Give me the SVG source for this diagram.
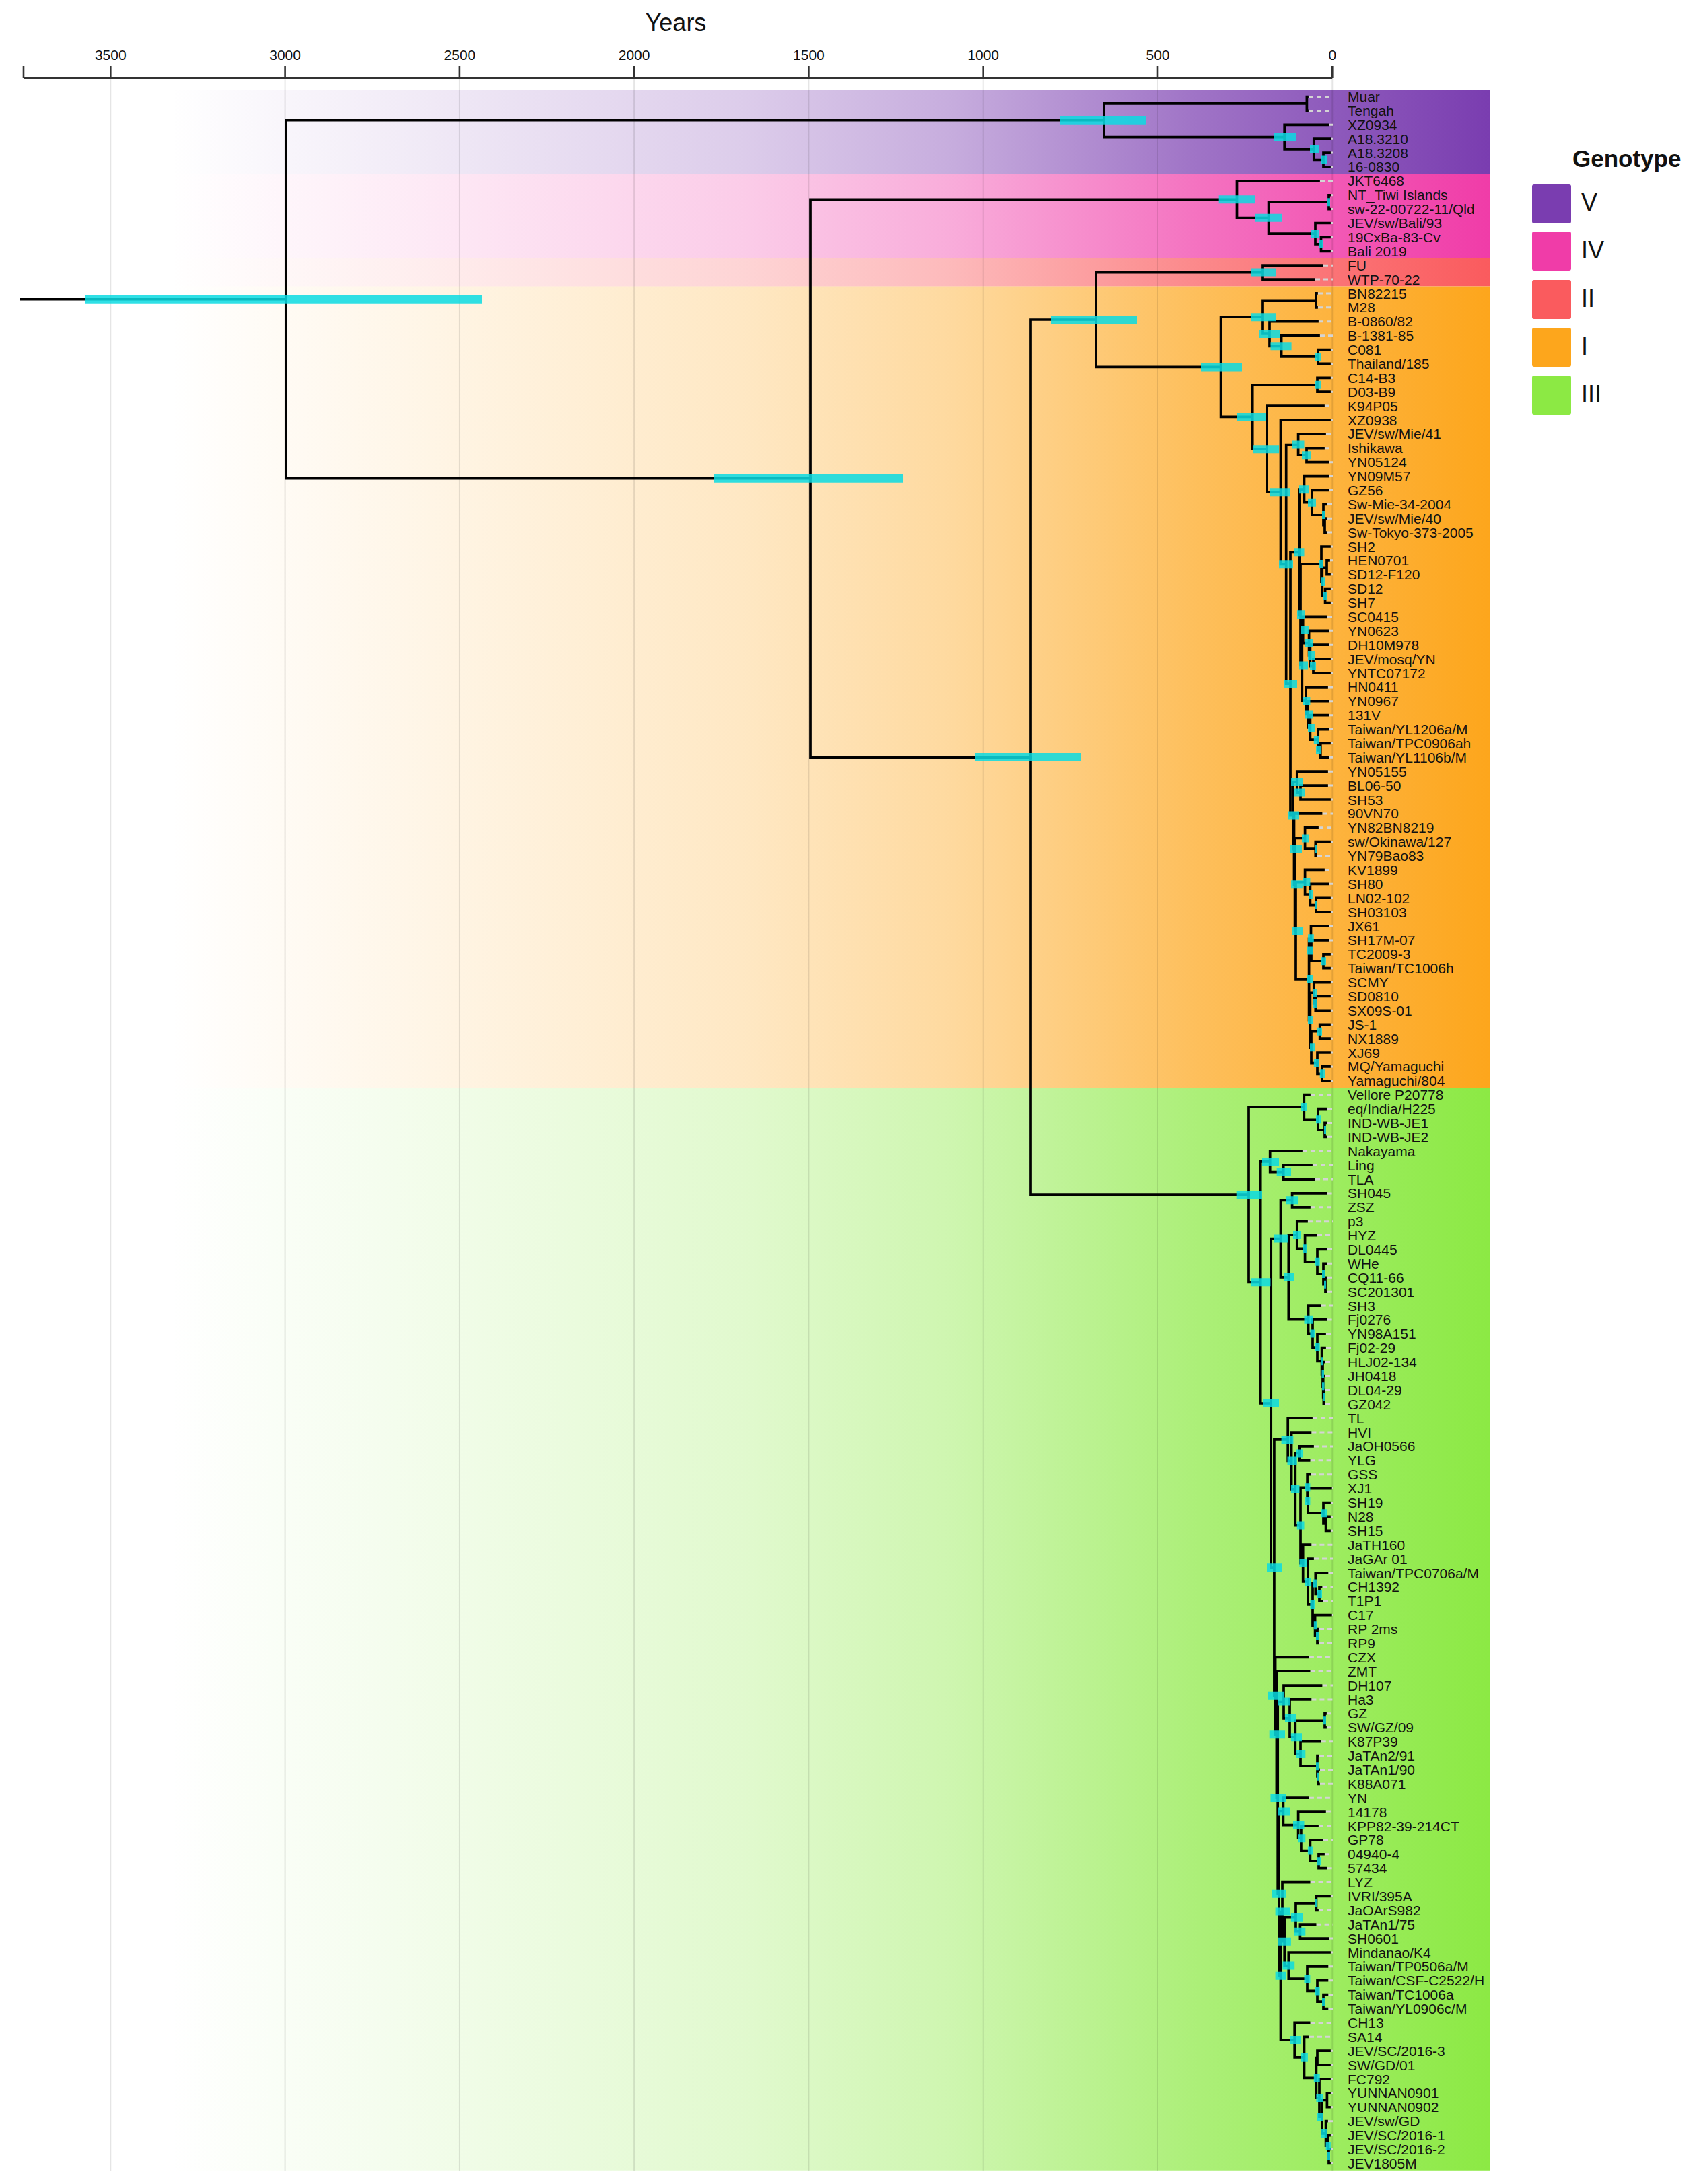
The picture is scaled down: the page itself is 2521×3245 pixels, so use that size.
<svg xmlns="http://www.w3.org/2000/svg" width="2521" height="3245" viewBox="0 0 2521 3245">
<style>
text{font-family:"Liberation Sans",Arial,sans-serif;fill:#111}
.lab{font-size:21px}
.tick{font-size:21px;text-anchor:middle}
.br{fill:none;stroke:#000;stroke-width:3.7;stroke-linecap:square}
.hpd{fill:none;stroke:#0bdbe2;stroke-opacity:0.85;stroke-width:12;stroke-linecap:butt}
.ext{fill:none;stroke:#d4d4d4;stroke-width:3;stroke-dasharray:7 5}
.grid{stroke:#000;stroke-opacity:0.1;stroke-width:2}
</style>
<defs>
<linearGradient id="gV" gradientUnits="userSpaceOnUse" x1="35" y1="0" x2="2213" y2="0">
<stop offset="0.1" stop-color="#7a3db0" stop-opacity="0"/><stop offset="0.26" stop-color="#7a3db0" stop-opacity="0.1"/><stop offset="0.49" stop-color="#7a3db0" stop-opacity="0.26"/><stop offset="0.63" stop-color="#7a3db0" stop-opacity="0.42"/><stop offset="0.8" stop-color="#7a3db0" stop-opacity="0.72"/><stop offset="1" stop-color="#7a3db0" stop-opacity="1"/>
</linearGradient>
<linearGradient id="gIV" href="#gV"><stop offset="0.1" stop-color="#f03ca8" stop-opacity="0"/><stop offset="0.26" stop-color="#f03ca8" stop-opacity="0.1"/><stop offset="0.49" stop-color="#f03ca8" stop-opacity="0.26"/><stop offset="0.63" stop-color="#f03ca8" stop-opacity="0.42"/><stop offset="0.8" stop-color="#f03ca8" stop-opacity="0.72"/><stop offset="1" stop-color="#f03ca8" stop-opacity="1"/></linearGradient>
<linearGradient id="gII" href="#gV"><stop offset="0.1" stop-color="#fa5b5e" stop-opacity="0"/><stop offset="0.26" stop-color="#fa5b5e" stop-opacity="0.1"/><stop offset="0.49" stop-color="#fa5b5e" stop-opacity="0.26"/><stop offset="0.63" stop-color="#fa5b5e" stop-opacity="0.42"/><stop offset="0.8" stop-color="#fa5b5e" stop-opacity="0.72"/><stop offset="1" stop-color="#fa5b5e" stop-opacity="1"/></linearGradient>
<linearGradient id="gI" href="#gV"><stop offset="0.1" stop-color="#fda61c" stop-opacity="0"/><stop offset="0.26" stop-color="#fda61c" stop-opacity="0.1"/><stop offset="0.49" stop-color="#fda61c" stop-opacity="0.26"/><stop offset="0.63" stop-color="#fda61c" stop-opacity="0.42"/><stop offset="0.8" stop-color="#fda61c" stop-opacity="0.72"/><stop offset="1" stop-color="#fda61c" stop-opacity="1"/></linearGradient>
<linearGradient id="gIII" href="#gV"><stop offset="0.1" stop-color="#8ce944" stop-opacity="0"/><stop offset="0.26" stop-color="#8ce944" stop-opacity="0.1"/><stop offset="0.49" stop-color="#8ce944" stop-opacity="0.26"/><stop offset="0.63" stop-color="#8ce944" stop-opacity="0.42"/><stop offset="0.8" stop-color="#8ce944" stop-opacity="0.72"/><stop offset="1" stop-color="#8ce944" stop-opacity="1"/></linearGradient>
</defs>
<rect width="2521" height="3245" fill="#fff"/>
<g id="bands" transform="matrix(1 0 0 20.89 0 143.5)">
<rect x="35" y="-0.5" width="2178" height="6" fill="url(#gV)"/>
<rect x="35" y="5.5" width="2178" height="6" fill="url(#gIV)"/>
<rect x="35" y="11.5" width="2178" height="2" fill="url(#gII)"/>
<rect x="35" y="13.5" width="2178" height="57" fill="url(#gI)"/>
<rect x="35" y="70.5" width="2178" height="77" fill="url(#gIII)"/>
</g>
<g id="grid">
<line class="grid" x1="164.3" y1="118" x2="164.3" y2="3225"/>
<line class="grid" x1="423.6" y1="118" x2="423.6" y2="3225"/>
<line class="grid" x1="682.9" y1="118" x2="682.9" y2="3225"/>
<line class="grid" x1="942.1" y1="118" x2="942.1" y2="3225"/>
<line class="grid" x1="1201.4" y1="118" x2="1201.4" y2="3225"/>
<line class="grid" x1="1460.7" y1="118" x2="1460.7" y2="3225"/>
<line class="grid" x1="1720" y1="118" x2="1720" y2="3225"/>
<line class="grid" x1="1979.3" y1="118" x2="1979.3" y2="3225"/>
</g>
<g id="axis">
<text x="1004" y="46" style="font-size:36px;text-anchor:middle">Years</text>
<path d="M35 116 H1979.3 M35 98 V116 M164.3 98 V116 M423.6 98 V116 M682.9 98 V116 M942.1 98 V116 M1201.4 98 V116 M1460.7 98 V116 M1720 98 V116 M1979.3 98 V116" fill="none" stroke="#333" stroke-width="2.6"/>
<text class="tick" x="164.3" y="89">3500</text>
<text class="tick" x="423.6" y="89">3000</text>
<text class="tick" x="682.9" y="89">2500</text>
<text class="tick" x="942.1" y="89">2000</text>
<text class="tick" x="1201.4" y="89">1500</text>
<text class="tick" x="1460.7" y="89">1000</text>
<text class="tick" x="1720" y="89">500</text>
<text class="tick" x="1979.3" y="89">0</text>
</g>
<g id="connectors" transform="matrix(1 0 0 20.89 0 143.5)">
<path class="ext" vector-effect="non-scaling-stroke" d="M1944 0H1980M1944 1H1980M1975 2H1980M1977.7 3H1980M1977 4H1980M1977 5H1980M1961 6H1980M1978 7H1980M1978 8H1980M1977 9H1980M1977 10H1980M1977 11H1980M1966 12H1980M1954 13H1980M1958 14H1980M1958 15H1980M1959 16H1980M1961 17H1980M1977 18H1980M1977 19H1980M1977 20H1980M1977 21H1980M1968 22H1980M1977 23H1980M1970 24H1980M1968 25H1980M1975 26H1980M1975 27H1980M1975 28H1980M1972 29H1980M1972 30H1980M1972 31H1980M1977 32H1980M1976 33H1980M1977 34H1980M1977 35H1980M1977 36H1980M1972 37H1980M1975 38H1980M1975 39H1980M1977 40H1980M1977 41H1980M1973 42H1980M1975 43H1980M1975 44H1980M1975 45H1980M1977 46H1980M1975 47H1980M1973 48H1980M1973 49H1980M1977 50H1980M1964.5 51H1980M1959 52H1980M1977 53H1980M1957 54H1980M1968 55H1980M1975 56H1980M1977 57H1980M1977 58H1980M1975 59H1980M1975 60H1980M1977 61H1980M1977 62H1980M1977 63H1980M1977 64H1980M1977 65H1980M1977 66H1980M1977 67H1980M1977 68H1980M1977 69H1980M1977 70H1980M1947 71H1980M1972 72H1980M1972 73H1980M1972 74H1980M1935 75H1980M1950 76H1980M1954 77H1980M1971.6 78H1980M1947 79H1980M1943 80H1980M1957 81H1980M1972 82H1980M1972 83H1980M1972 84H1980M1972 85H1980M1962.7 86H1980M1971.6 87H1980M1970 88H1980M1970 89H1980M1969 90H1980M1969 91H1980M1969 92H1980M1969 93H1980M1950 94H1980M1948.4 95H1980M1952 96H1980M1946.6 97H1980M1948 98H1980M1978.8 99H1980M1977 100H1980M1977 101H1980M1977 102H1980M1948.4 103H1980M1952 104H1980M1973.4 105H1980M1964.5 106H1980M1966 107H1980M1978.8 108H1980M1960 109H1980M1960 110H1980M1944.9 111H1980M1946.6 112H1980M1964.5 113H1980M1948.4 114H1980M1971 115H1980M1971 116H1980M1962.7 117H1980M1960 118H1980M1961 119H1980M1961 120H1980M1944.9 121H1980M1969.9 122H1980M1959 123H1980M1966 124H1980M1968 125H1980M1971.6 126H1980M1946.6 127H1980M1977 128H1980M1959 129H1980M1955.6 130H1980M1975 131H1980M1977 132H1980M1973.4 133H1980M1973.4 134H1980M1973.4 135H1980M1973.4 136H1980M1946.6 137H1980M1945 138H1980M1977 139H1980M1977 140H1980M1977 141H1980M1977 142H1980M1977 143H1980M1973 144H1980M1977 145H1980M1977 146H1980M1977 147H1980"/>
<g id="root-stem"><path class="br" vector-effect="non-scaling-stroke" d="M31.5 14.42H425M425 1.6875V27.15M425 1.6875H1640M425 27.15H1204"/></g>
<g id="clade-V"><path class="br" vector-effect="non-scaling-stroke" d="M1640 0.5V2.875M1640 0.5H1941.4M1640 2.875H1908.2M1941.4 0V1M1941.4 0H1942M1941.4 1H1942M1908.2 2V3.75M1908.2 2H1973M1908.2 3.75H1951.8M1951.8 3V4.5M1951.8 3H1975.7M1951.8 4.5H1966M1966 4V5M1966 4H1975M1966 5H1975"/></g>
<g id="clade-IV"><path class="br" vector-effect="non-scaling-stroke" d="M1204 7.3125V46.99M1204 7.3125H1837.5M1204 46.99H1531M1837.5 6V8.625M1837.5 6H1959M1837.5 8.625H1884.6M1884.6 7.5V9.75M1884.6 7.5H1974M1884.6 9.75H1954M1974 7V8M1974 7H1976M1974 8H1976M1954 9V10.5M1954 9H1975M1954 10.5H1962.5M1962.5 10V11M1962.5 10H1975M1962.5 11H1975"/></g>
<g id="clade-II"><path class="br" vector-effect="non-scaling-stroke" d="M1531 15.87V78.11M1531 15.87H1628M1531 78.11H1855M1628 12.5V19.24M1628 12.5H1876M1628 19.24H1813.6M1876 12V13M1876 12H1964M1876 13H1952"/></g>
<g id="clade-I"><path class="br" vector-effect="non-scaling-stroke" d="M1813.6 15.69V22.78M1813.6 15.69H1876M1813.6 22.78H1860.7M1876 14.5V16.875M1876 14.5H1955M1876 16.875H1886M1955 14V15M1955 14H1956M1955 15H1956M1886 16V17.75M1886 16H1957M1886 17.75H1903.6M1903.6 17V18.5M1903.6 17H1959M1903.6 18.5H1958M1958 18V19M1958 18H1975M1958 19H1975M1860.7 20.5V25.07M1860.7 20.5H1957M1860.7 25.07H1882M1957 20V21M1957 20H1975M1957 21H1975M1882 22V28.13M1882 22H1966M1882 28.13H1902.5M1902.5 23V33.26M1902.5 23H1975M1902.5 33.26H1910.7M1910.7 24.75V41.77M1910.7 24.75H1928.6M1910.7 41.77H1917M1928.6 24V25.5M1928.6 24H1968M1928.6 25.5H1941M1941 25V26M1941 25H1966M1941 26H1973M1917 32.4V51.13M1917 32.4H1930.4M1917 51.13H1921M1930.4 27.94V36.85M1930.4 27.94H1937.5M1930.4 36.85H1932M1937.5 27V28.875M1937.5 27H1973M1937.5 28.875H1949M1949 28V29.75M1949 28H1973M1949 29.75H1966M1966 29V30.5M1966 29H1970M1966 30.5H1968M1968 30V31M1968 30H1970M1968 31H1970M1932 33.25V40.45M1932 33.25H1963M1932 40.45H1934.3M1963 32V34.5M1963 32H1975M1963 34.5H1964.3M1964.3 33.5V35.5M1964.3 33.5H1971M1964.3 35.5H1968.6M1971 33V34M1971 33H1974M1971 34H1975M1968.6 35V36M1968.6 35H1975M1968.6 36H1975M1934.3 37.94V42.97M1934.3 37.94H1935.7M1934.3 42.97H1940M1935.7 37V38.875M1935.7 37H1970M1935.7 38.875H1944.6M1944.6 38V39.75M1944.6 38H1973M1944.6 39.75H1946.4M1946.4 39V40.5M1946.4 39H1973M1946.4 40.5H1951M1951 40V41M1951 40H1975M1951 41H1975M1940 42V43.94M1940 42H1971M1940 43.94H1942.9M1942.9 43V44.875M1942.9 43H1973M1942.9 44.875H1946.4M1946.4 44V45.75M1946.4 44H1973M1946.4 45.75H1957.9M1957.9 45V46.5M1957.9 45H1973M1957.9 46.5H1961.8M1961.8 46V47M1961.8 46H1975M1961.8 47H1973M1921 48.75V53.52M1921 48.75H1926.8M1921 53.52H1922.5M1926.8 48V49.5M1926.8 48H1971M1926.8 49.5H1932M1932 49V50M1932 49H1971M1932 50H1975M1922.5 51V56.04M1922.5 51H1962.5M1922.5 56.04H1923.6M1923.6 52.75V59.33M1923.6 52.75H1938.6M1923.6 59.33H1925M1938.6 52V53.5M1938.6 52H1957M1938.6 53.5H1954.3M1954.3 53V54M1954.3 53H1975M1954.3 54H1955M1925 55.875V62.78M1925 55.875H1938.6M1925 62.78H1944.6M1938.6 55V56.75M1938.6 55H1966M1938.6 56.75H1946.4M1946.4 56V57.5M1946.4 56H1973M1946.4 57.5H1955M1955 57V58M1955 57H1975M1955 58H1975M1944.6 59.875V65.69M1944.6 59.875H1947.5M1944.6 65.69H1946.4M1947.5 59V60.75M1947.5 59H1973M1947.5 60.75H1948M1948 60V61.5M1948 60H1973M1948 61.5H1966M1966 61V62M1966 61H1975M1966 62H1975M1946.4 63.75V67.625M1946.4 63.75H1951.8M1946.4 67.625H1948M1951.8 63V64.5M1951.8 63H1975M1951.8 64.5H1954.3M1954.3 64V65M1954.3 64H1975M1954.3 65H1975M1948 66.5V68.75M1948 66.5H1960.7M1948 68.75H1957M1960.7 66V67M1960.7 66H1975M1960.7 67H1975M1957 68V69.5M1957 68H1975M1957 69.5H1964M1964 69V70M1964 69H1975M1964 70H1975"/></g>
<g id="clade-III"><path class="br" vector-effect="non-scaling-stroke" d="M1855 71.875V84.34M1855 71.875H1937.3M1855 84.34H1872.7M1937.3 71V72.75M1937.3 71H1945M1937.3 72.75H1958M1958 72V73.5M1958 72H1970M1958 73.5H1968M1968 73V74M1968 73H1970M1968 74H1970M1872.7 75.75V92.94M1872.7 75.75H1886.7M1872.7 92.94H1888.2M1886.7 75V76.5M1886.7 75H1933M1886.7 76.5H1906.7M1906.7 76V77M1906.7 76H1948M1906.7 77H1952M1888.2 81.24V104.63M1888.2 81.24H1902.5M1888.2 104.63H1892.9M1902.5 78.5V83.98M1902.5 78.5H1919.6M1902.5 83.98H1914.3M1919.6 78V79M1919.6 78H1969.6M1919.6 79H1945M1914.3 80.97V86.99M1914.3 80.97H1926.8M1914.3 86.99H1943.6M1926.8 80V81.94M1926.8 80H1941M1926.8 81.94H1938.6M1938.6 81V82.875M1938.6 81H1955M1938.6 82.875H1957M1957 82V83.75M1957 82H1970M1957 83.75H1966M1966 83V84.5M1966 83H1970M1966 84.5H1969M1969 84V85M1969 84H1970M1969 85H1970M1943.6 86V87.98M1943.6 86H1960.7M1943.6 87.98H1950M1950 87V88.97M1950 87H1969.6M1950 88.97H1957M1957 88V89.94M1957 88H1968M1957 89.94H1963.6M1963.6 89V90.875M1963.6 89H1968M1963.6 90.875H1965M1965 90V91.75M1965 90H1967M1965 91.75H1965.7M1965.7 91V92.5M1965.7 91H1967M1965.7 92.5H1966.4M1966.4 92V93M1966.4 92H1967M1966.4 93H1967M1892.9 95.52V113.75M1892.9 95.52H1913.2M1892.9 113.75H1894.6M1913.2 94V97.03M1913.2 94H1948M1913.2 97.03H1918.6M1918.6 95V99.06M1918.6 95H1946.4M1918.6 99.06H1924.3M1924.3 96.5V101.63M1924.3 96.5H1930.4M1924.3 101.63H1932M1930.4 96V97M1930.4 96H1950M1930.4 97H1944.6M1932 98.94V104.31M1932 98.94H1942.1M1932 104.31H1935.7M1942.1 98V99.875M1942.1 98H1946M1942.1 99.875H1943M1943 99V100.75M1943 99H1976.8M1943 100.75H1966M1966 100V101.5M1966 100H1975M1966 101.5H1969.6M1969.6 101V102M1969.6 101H1975M1969.6 102H1975M1935.7 103V105.625M1935.7 103H1946.4M1935.7 105.625H1943M1943 104V107.25M1943 104H1950M1943 107.25H1950M1950 105.75V108.75M1950 105.75H1954.3M1950 108.75H1953.6M1954.3 105V106.5M1954.3 105H1971.4M1954.3 106.5H1960M1960 106V107M1960 106H1962.5M1960 107H1964M1953.6 108V109.5M1953.6 108H1976.8M1953.6 109.5H1957M1957 109V110M1957 109H1958M1957 110H1958M1894.6 111V116.5M1894.6 111H1942.9M1894.6 116.5H1896.4M1896.4 112V120.995M1896.4 112H1944.6M1896.4 120.995H1898.2M1898.2 114.17V127.82M1898.2 114.17H1907M1898.2 127.82H1900M1907 113V115.34M1907 113H1962.5M1907 115.34H1916M1916 114V116.69M1916 114H1946.4M1916 116.69H1924.3M1924.3 115.5V117.875M1924.3 115.5H1968M1924.3 117.875H1932M1968 115V116M1968 115H1969M1968 116H1969M1932 117V118.75M1932 117H1960.7M1932 118.75H1957M1957 118V119.5M1957 118H1958M1957 119.5H1958M1958 119V120M1958 119H1959M1958 120H1959M1900 121.97V133.67M1900 121.97H1906.4M1900 133.67H1902.5M1906.4 121V122.94M1906.4 121H1942.9M1906.4 122.94H1928.6M1928.6 122V123.875M1928.6 122H1967.9M1928.6 123.875H1932.9M1932.9 123V124.75M1932.9 123H1957M1932.9 124.75H1946.4M1946.4 124V125.5M1946.4 124H1964M1946.4 125.5H1959M1959 125V126M1959 125H1966M1959 126H1969.6M1902.5 129.11V138.23M1902.5 129.11H1905M1902.5 138.23H1923.2M1905 127V131.22M1905 127H1944.6M1905 131.22H1908.2M1908.2 129.5V132.94M1908.2 129.5H1925M1908.2 132.94H1914.3M1925 128.5V130.5M1925 128.5H1955.4M1925 130.5H1931.4M1955.4 128V129M1955.4 128H1975M1955.4 129H1957M1931.4 130V131M1931.4 130H1953.6M1931.4 131H1973M1914.3 132V133.875M1914.3 132H1975M1914.3 133.875H1942M1942 133V134.75M1942 133H1971.4M1942 134.75H1957M1957 134V135.5M1957 134H1971.4M1957 135.5H1966M1966 135V136M1966 135H1971.4M1966 136H1971.4M1923.2 137V139.46M1923.2 137H1944.6M1923.2 139.46H1937.5M1937.5 138V140.92M1937.5 138H1943M1937.5 140.92H1955.4M1955.4 139.5V142.34M1955.4 139.5H1957M1955.4 142.34H1960M1957 139V140M1957 139H1975M1957 140H1975M1960 141V143.69M1960 141H1975M1960 143.69H1964M1964 142.5V144.875M1964 142.5H1971.4M1964 144.875H1969.6M1971.4 142V143M1971.4 142H1975M1971.4 143H1975M1969.6 144V145.75M1969.6 144H1971M1969.6 145.75H1973M1973 145V146.5M1973 145H1975M1973 146.5H1974M1974 146V147M1974 146H1975M1974 147H1975"/></g>
<g id="hpd-bars"><path class="hpd" vector-effect="non-scaling-stroke" d="M127 14.42H716M1575 1.6875H1703M1060 27.15H1341M1449 46.99H1606M1562 15.87H1689M1810.7 7.31H1864M1864 8.625H1905M1972 7.5H1976M1948 9.75H1960M1959 10.5H1966M1893 2.875H1925M1946 3.75H1959M1962 4.5H1971M1859 12.5H1896M1784 19.24H1845M1859 15.69H1896M1870 16.875H1902M1887.5 17.75H1918.6M1954 18.5H1962M1837.5 22.78H1880M1953 20.5H1962M1862 25.07H1900M1886 28.13H1916M1900 33.26H1921M1919.6 24.75H1937.5M1934 25.5H1948M1907 41.77H1927M1923 32.4H1937.5M1930 27.94H1945M1943 28.875H1955M1964 29.75H1968M1959 33.25H1966M1962 34.5H1968M1965 35.5H1971M1927 36.85H1939M1932 37.94H1945M1939 38.875H1950M1943 39.75H1953.6M1946 40.5H1955M1930 40.45H1943M1935.7 42.97H1946.4M1939 43.94H1950M1943 44.875H1953.6M1951.8 45.75H1959M1955 46.5H1962.5M1918 48.75H1935.7M1923 49.5H1939M1914 51.13H1930M1916 53.52H1934M1918 56.04H1936M1934 52.75H1945M1953 53.5H1956M1935.7 55.875H1946.4M1944.6 56.75H1950M1953 57.5H1957M1919.6 59.33H1935.7M1943 59.875H1951.8M1942 60.75H1950M1962 61.5H1970M1941 62.78H1950M1943 65.69H1950M1950 63.75H1957M1950 64.5H1957M1946 67.625H1953.6M1957 66.5H1964M1951.8 68.75H1959M1960.7 69.5H1968M1836.7 78.11H1875M1932 71.875H1942M1955 72.75H1962M1967 73.5H1970M1858 84.34H1887.5M1875 75.75H1900M1896.7 76.5H1918M1877 92.94H1900M1893 81.24H1914M1911 78.5H1928.6M1907 83.98H1923M1921 80.97H1932M1935 81.94H1942M1953.6 82.875H1960.7M1964 83.75H1968M1967 84.5H1970M1937.5 86.99H1950M1946.4 87.98H1953.6M1953.6 88.97H1960.7M1962 89.94H1966M1963.5 90.875H1967M1964 91.75H1967.5M1965 92.5H1968M1903.6 95.52H1921.4M1912.5 97.03H1926.8M1917.9 99.06H1930.4M1925 96.5H1935.7M1926.8 101.63H1937.5M1939 98.94H1946.4M1939 99.875H1946.4M1962.5 100.75H1971.4M1930.4 104.31H1941M1939 105.625H1947M1946.4 107.25H1953.6M1950 105.75H1957M1957 106.5H1964M1951.8 108.75H1957M1955 109.5H1959M1882 104.63H1905M1884 113.75H1907M1885.7 116.5H1909M1887.5 120.995H1910.7M1898 114.17H1916M1909 115.34H1925M1917.9 116.69H1934M1925.7 117.875H1939.3M1966 115.5H1970M1955 118.75H1960M1956 119.5H1960M1889 127.82H1910.7M1898 121.97H1916M1921 122.94H1937.5M1928.6 123.875H1939.3M1942.9 124.75H1950M1956 125.5H1962M1894.6 133.67H1910.7M1894.6 129.11H1916M1898 131.22H1917.9M1917.9 129.5H1935.7M1954 128.5H1957M1923 130.5H1939.3M1905.4 132.94H1923.2M1937.5 133.875H1946.4M1953.6 134.75H1960.7M1964 135.5H1968M1916 138.23H1932M1932 139.46H1942.9M1951.8 140.92H1960.7M1955.4 142.34H1966M1957 143.69H1966M1962.5 144.875H1971.4M1969.6 145.75H1976.8M1972 146.5H1976"/></g>
</g>
<g id="tips" class="lab" transform="translate(2002 7.5)">
<text id="t0" y="143.5">Muar</text>
<text id="t1" y="164.4">Tengah</text>
<text id="t2" y="185.3">XZ0934</text>
<text id="t3" y="206.2">A18.3210</text>
<text id="t4" y="227.1">A18.3208</text>
<text id="t5" y="247.9">16-0830</text>
<text id="t6" y="268.8">JKT6468</text>
<text id="t7" y="289.7">NT_Tiwi Islands</text>
<text id="t8" y="310.6">sw-22-00722-11/Qld</text>
<text id="t9" y="331.5">JEV/sw/Bali/93</text>
<text id="t10" y="352.4">19CxBa-83-Cv</text>
<text id="t11" y="373.3">Bali 2019</text>
<text id="t12" y="394.2">FU</text>
<text id="t13" y="415.1">WTP-70-22</text>
<text id="t14" y="436.0">BN82215</text>
<text id="t15" y="456.9">M28</text>
<text id="t16" y="477.7">B-0860/82</text>
<text id="t17" y="498.6">B-1381-85</text>
<text id="t18" y="519.5">C081</text>
<text id="t19" y="540.4">Thailand/185</text>
<text id="t20" y="561.3">C14-B3</text>
<text id="t21" y="582.2">D03-B9</text>
<text id="t22" y="603.1">K94P05</text>
<text id="t23" y="624.0">XZ0938</text>
<text id="t24" y="644.9">JEV/sw/Mie/41</text>
<text id="t25" y="665.8">Ishikawa</text>
<text id="t26" y="686.6">YN05124</text>
<text id="t27" y="707.5">YN09M57</text>
<text id="t28" y="728.4">GZ56</text>
<text id="t29" y="749.3">Sw-Mie-34-2004</text>
<text id="t30" y="770.2">JEV/sw/Mie/40</text>
<text id="t31" y="791.1">Sw-Tokyo-373-2005</text>
<text id="t32" y="812.0">SH2</text>
<text id="t33" y="832.9">HEN0701</text>
<text id="t34" y="853.8">SD12-F120</text>
<text id="t35" y="874.7">SD12</text>
<text id="t36" y="895.5">SH7</text>
<text id="t37" y="916.4">SC0415</text>
<text id="t38" y="937.3">YN0623</text>
<text id="t39" y="958.2">DH10M978</text>
<text id="t40" y="979.1">JEV/mosq/YN</text>
<text id="t41" y="1000.0">YNTC07172</text>
<text id="t42" y="1020.9">HN0411</text>
<text id="t43" y="1041.8">YN0967</text>
<text id="t44" y="1062.7">131V</text>
<text id="t45" y="1083.6">Taiwan/YL1206a/M</text>
<text id="t46" y="1104.4">Taiwan/TPC0906ah</text>
<text id="t47" y="1125.3">Taiwan/YL1106b/M</text>
<text id="t48" y="1146.2">YN05155</text>
<text id="t49" y="1167.1">BL06-50</text>
<text id="t50" y="1188.0">SH53</text>
<text id="t51" y="1208.9">90VN70</text>
<text id="t52" y="1229.8">YN82BN8219</text>
<text id="t53" y="1250.7">sw/Okinawa/127</text>
<text id="t54" y="1271.6">YN79Bao83</text>
<text id="t55" y="1292.5">KV1899</text>
<text id="t56" y="1313.3">SH80</text>
<text id="t57" y="1334.2">LN02-102</text>
<text id="t58" y="1355.1">SH03103</text>
<text id="t59" y="1376.0">JX61</text>
<text id="t60" y="1396.9">SH17M-07</text>
<text id="t61" y="1417.8">TC2009-3</text>
<text id="t62" y="1438.7">Taiwan/TC1006h</text>
<text id="t63" y="1459.6">SCMY</text>
<text id="t64" y="1480.5">SD0810</text>
<text id="t65" y="1501.4">SX09S-01</text>
<text id="t66" y="1522.2">JS-1</text>
<text id="t67" y="1543.1">NX1889</text>
<text id="t68" y="1564.0">XJ69</text>
<text id="t69" y="1584.9">MQ/Yamaguchi</text>
<text id="t70" y="1605.8">Yamaguchi/804</text>
<text id="t71" y="1626.7">Vellore P20778</text>
<text id="t72" y="1647.6">eq/India/H225</text>
<text id="t73" y="1668.5">IND-WB-JE1</text>
<text id="t74" y="1689.4">IND-WB-JE2</text>
<text id="t75" y="1710.3">Nakayama</text>
<text id="t76" y="1731.1">Ling</text>
<text id="t77" y="1752.0">TLA</text>
<text id="t78" y="1772.9">SH045</text>
<text id="t79" y="1793.8">ZSZ</text>
<text id="t80" y="1814.7">p3</text>
<text id="t81" y="1835.6">HYZ</text>
<text id="t82" y="1856.5">DL0445</text>
<text id="t83" y="1877.4">WHe</text>
<text id="t84" y="1898.3">CQ11-66</text>
<text id="t85" y="1919.2">SC201301</text>
<text id="t86" y="1940.0">SH3</text>
<text id="t87" y="1960.9">Fj0276</text>
<text id="t88" y="1981.8">YN98A151</text>
<text id="t89" y="2002.7">Fj02-29</text>
<text id="t90" y="2023.6">HLJ02-134</text>
<text id="t91" y="2044.5">JH0418</text>
<text id="t92" y="2065.4">DL04-29</text>
<text id="t93" y="2086.3">GZ042</text>
<text id="t94" y="2107.2">TL</text>
<text id="t95" y="2128.1">HVI</text>
<text id="t96" y="2148.9">JaOH0566</text>
<text id="t97" y="2169.8">YLG</text>
<text id="t98" y="2190.7">GSS</text>
<text id="t99" y="2211.6">XJ1</text>
<text id="t100" y="2232.5">SH19</text>
<text id="t101" y="2253.4">N28</text>
<text id="t102" y="2274.3">SH15</text>
<text id="t103" y="2295.2">JaTH160</text>
<text id="t104" y="2316.1">JaGAr 01</text>
<text id="t105" y="2337.0">Taiwan/TPC0706a/M</text>
<text id="t106" y="2357.8">CH1392</text>
<text id="t107" y="2378.7">T1P1</text>
<text id="t108" y="2399.6">C17</text>
<text id="t109" y="2420.5">RP 2ms</text>
<text id="t110" y="2441.4">RP9</text>
<text id="t111" y="2462.3">CZX</text>
<text id="t112" y="2483.2">ZMT</text>
<text id="t113" y="2504.1">DH107</text>
<text id="t114" y="2525.0">Ha3</text>
<text id="t115" y="2545.9">GZ</text>
<text id="t116" y="2566.7">SW/GZ/09</text>
<text id="t117" y="2587.6">K87P39</text>
<text id="t118" y="2608.5">JaTAn2/91</text>
<text id="t119" y="2629.4">JaTAn1/90</text>
<text id="t120" y="2650.3">K88A071</text>
<text id="t121" y="2671.2">YN</text>
<text id="t122" y="2692.1">14178</text>
<text id="t123" y="2713.0">KPP82-39-214CT</text>
<text id="t124" y="2733.9">GP78</text>
<text id="t125" y="2754.8">04940-4</text>
<text id="t126" y="2775.6">57434</text>
<text id="t127" y="2796.5">LYZ</text>
<text id="t128" y="2817.4">IVRI/395A</text>
<text id="t129" y="2838.3">JaOArS982</text>
<text id="t130" y="2859.2">JaTAn1/75</text>
<text id="t131" y="2880.1">SH0601</text>
<text id="t132" y="2901.0">Mindanao/K4</text>
<text id="t133" y="2921.9">Taiwan/TP0506a/M</text>
<text id="t134" y="2942.8">Taiwan/CSF-C2522/H</text>
<text id="t135" y="2963.7">Taiwan/TC1006a</text>
<text id="t136" y="2984.5">Taiwan/YL0906c/M</text>
<text id="t137" y="3005.4">CH13</text>
<text id="t138" y="3026.3">SA14</text>
<text id="t139" y="3047.2">JEV/SC/2016-3</text>
<text id="t140" y="3068.1">SW/GD/01</text>
<text id="t141" y="3089.0">FC792</text>
<text id="t142" y="3109.9">YUNNAN0901</text>
<text id="t143" y="3130.8">YUNNAN0902</text>
<text id="t144" y="3151.7">JEV/sw/GD</text>
<text id="t145" y="3172.6">JEV/SC/2016-1</text>
<text id="t146" y="3193.4">JEV/SC/2016-2</text>
<text id="t147" y="3214.3">JEV1805M</text>
</g>
<g id="legend">
<text x="2336" y="248" style="font-size:35px;font-weight:bold">Genotype</text>
<g id="leg-V"><rect x="2276" y="274" width="58" height="58" rx="3" fill="#7a3db0"/><text x="2349" y="313" style="font-size:36px">V</text></g>
<g id="leg-IV"><rect x="2276" y="344" width="58" height="58" rx="3" fill="#f03ca8"/><text x="2349" y="384" style="font-size:36px">IV</text></g>
<g id="leg-II"><rect x="2276" y="416" width="58" height="58" rx="3" fill="#fa5b5e"/><text x="2349" y="456" style="font-size:36px">II</text></g>
<g id="leg-I"><rect x="2276" y="487" width="58" height="58" rx="3" fill="#fda61c"/><text x="2349" y="527" style="font-size:36px">I</text></g>
<g id="leg-III"><rect x="2276" y="558" width="58" height="58" rx="3" fill="#8ce944"/><text x="2349" y="598" style="font-size:36px">III</text></g>
</g>
</svg>
